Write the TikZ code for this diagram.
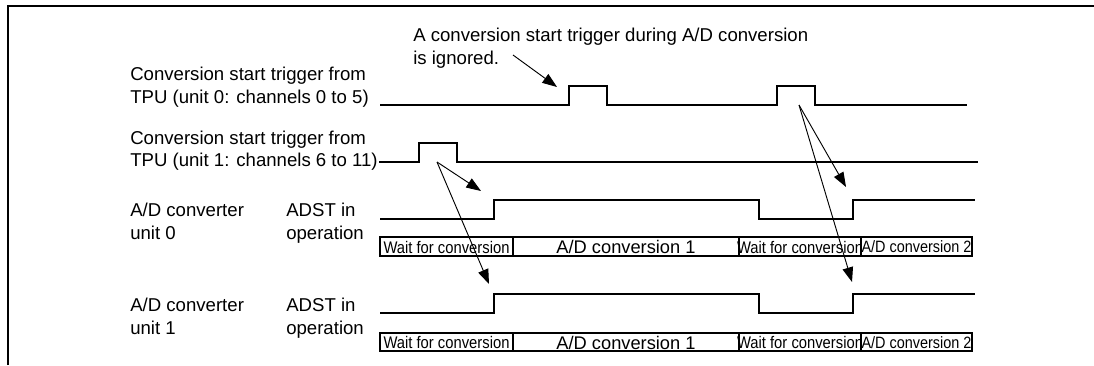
\documentclass[tikz,border=0pt]{standalone}
\usepackage{fontspec}
\setmainfont{Liberation Sans}
\usetikzlibrary{arrows.meta}
\tikzset{
  lbl/.style={anchor=base west, inner sep=0pt, font=\fontsize{13.95}{17}\selectfont},
  sig/.style={line width=1.6pt, line join=miter},
  cell/.style={draw, line width=1.5pt},
  celltext/.style={inner sep=0pt, font=\fontsize{12.6}{13}\selectfont},
  ctwo/.style={inner sep=0pt, font=\fontsize{12.3}{13}\selectfont},
  bigtext/.style={inner sep=0pt, font=\fontsize{13.7}{14}\selectfont},
  ptr/.style={line width=0.7pt, -{Triangle[length=11pt,width=8pt]}},
  frame/.style={line width=2pt}
}
\begin{document}
\begin{tikzpicture}[x=0.75pt,y=-0.75pt]
\useasboundingbox (0,0) rectangle (1094,365);
% partial frame
\coordinate (fl) at (8,365);
\coordinate (fc) at (8,6);
\coordinate (fr) at (1094,6);
\draw[frame] (fl) -- (fc) -- (fr);

% annotation
\node[lbl] (ann1) at (413,41.5) {A conversion start trigger during A/D conversion};
\node[lbl] (ann2) at (413,64.5) {is ignored.};

% left labels
\node[lbl] (t0a) at (130,80) {Conversion start trigger from};
\node[lbl] (t0b) at (130,103) {TPU (unit 0: channels 0 to 5)};
\node[lbl] (t1a) at (130,144) {Conversion start trigger from};
\node[lbl] (t1b) at (130,166.5) {TPU (unit 1: channels 6 to 11)};
\node[lbl] (u0a) at (130,216.5) {A/D converter};
\node[lbl] (u0b) at (130,239.5) {unit 0};
\node[lbl] (a0a) at (286,216.5) {ADST in};
\node[lbl] (a0b) at (286,239.5) {operation};
\node[lbl] (u1a) at (130,311.5) {A/D converter};
\node[lbl] (u1b) at (130,334) {unit 1};
\node[lbl] (a1a) at (286,311.5) {ADST in};
\node[lbl] (a1b) at (286,334) {operation};

% TPU unit 0 trigger
\draw[sig] (380,105) -- (569,105) -- (569,86) -- (607,86) -- (607,105)
  -- (777,105) -- (777,86) -- (815,86) -- (815,105) -- (967,105);
% TPU unit 1 trigger
\draw[sig] (379,162) -- (419,162) -- (419,143) -- (457,143) -- (457,162) -- (978,162);
% ADST unit 0
\draw[sig] (380,219) -- (494,219) -- (494,200) -- (759,200) -- (759,219)
  -- (853,219) -- (853,200) -- (975,200);
% ADST unit 1
\draw[sig] (380,313) -- (494,313) -- (494,294) -- (759,294) -- (759,313)
  -- (853,313) -- (853,294) -- (975,294);

% state boxes unit 0
\draw[cell] (380,237) rectangle (513,256);
\draw[cell] (513,237) rectangle (739,256);
\draw[cell] (739,237) rectangle (861,256);
\draw[cell] (861,237) rectangle (972,256);
\node[celltext] (w0a) at (446.5,247) {\scalebox{0.88}[1]{Wait for conversion}};
\node[bigtext] (c0a) at (626,247) {A/D conversion 1};
\node[celltext] (w0b) at (800,247) {\scalebox{0.88}[1]{Wait for conversion}};
\node[ctwo] (c0b) at (916.5,247) {\scalebox{0.88}[1]{A/D conversion 2}};

% state boxes unit 1
\draw[cell] (380,333) rectangle (513,351);
\draw[cell] (513,333) rectangle (739,351);
\draw[cell] (739,333) rectangle (861,351);
\draw[cell] (861,333) rectangle (972,351);
\node[celltext] (w1a) at (446.5,342.5) {\scalebox{0.88}[1]{Wait for conversion}};
\node[bigtext] (c1a) at (626,342.5) {A/D conversion 1};
\node[celltext] (w1b) at (800,342.5) {\scalebox{0.88}[1]{Wait for conversion}};
\node[ctwo] (c1b) at (916.5,342.5) {\scalebox{0.88}[1]{A/D conversion 2}};

% arrow coordinates
\coordinate (annS) at (513,55);
\coordinate (annT) at (557,87);
\coordinate (p1) at (437,162);
\coordinate (p1a) at (481,191);
\coordinate (p1b) at (489,284);
\coordinate (p2) at (799,105);
\coordinate (p2a) at (846,187);
\coordinate (p2b) at (852,282);

\draw[ptr] (annS) -- (annT);
\draw[ptr] (p1) -- (p1a);
\draw[ptr] (p1) -- (p1b);
\draw[ptr] (p2) -- (p2a);
\draw[ptr] (p2) -- (p2b);
\end{tikzpicture}
\end{document}
